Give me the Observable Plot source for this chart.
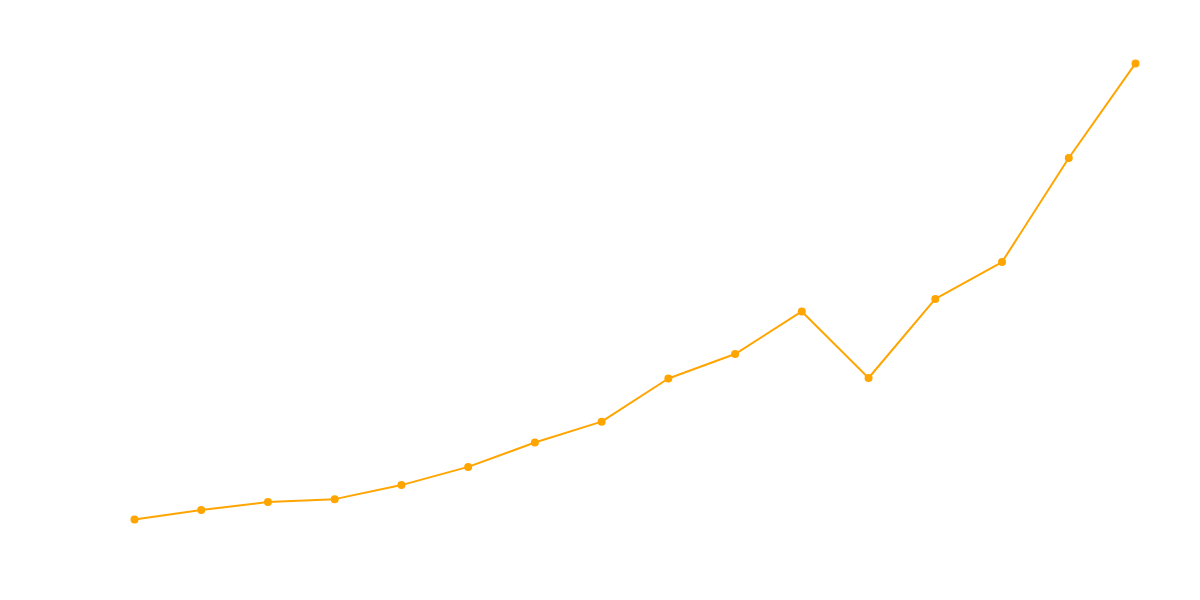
<!DOCTYPE html>
<html>
<head>
<meta charset="utf-8">
<script src="https://cdn.jsdelivr.net/npm/d3@7"></script>
<script src="https://cdn.jsdelivr.net/npm/@observablehq/plot@0.6"></script>
<style>
  html, body { margin: 0; padding: 0; background: #ffffff; }
  #chart { width: 1200px; height: 600px; }
</style>
</head>
<body>
<div id="chart"></div>
<script>
const years = [2005, 2006, 2007, 2008, 2009, 2010, 2011, 2012, 2013, 2014, 2015, 2016, 2017, 2018, 2019, 2020];
const values = [7.9, 9.7, 11.25, 11.8, 14.5, 18.0, 22.7, 26.7, 35.0, 39.7, 47.9, 35.1, 50.3, 57.4, 77.4, 95.6];

const data = years.map((y, i) => ({ year: y, value: values[i] }));

const chart = Plot.plot({
  width: 1200,
  height: 600,
  marginTop: 40,
  marginBottom: 40,
  marginLeft: 134,
  marginRight: 65,
  style: { background: "#ffffff", fontFamily: "DejaVu Sans" },
  x: { domain: [2005, 2020], axis: null },
  y: { domain: [0, 100], axis: null },
  marks: [
    Plot.line(data, { x: "year", y: "value", stroke: "#FFA500", strokeWidth: 2 }),
    Plot.dot(data, { x: "year", y: "value", fill: "#FFA500", r: 4 })
  ]
});
document.getElementById("chart").appendChild(chart);
</script>
</body>
</html>
